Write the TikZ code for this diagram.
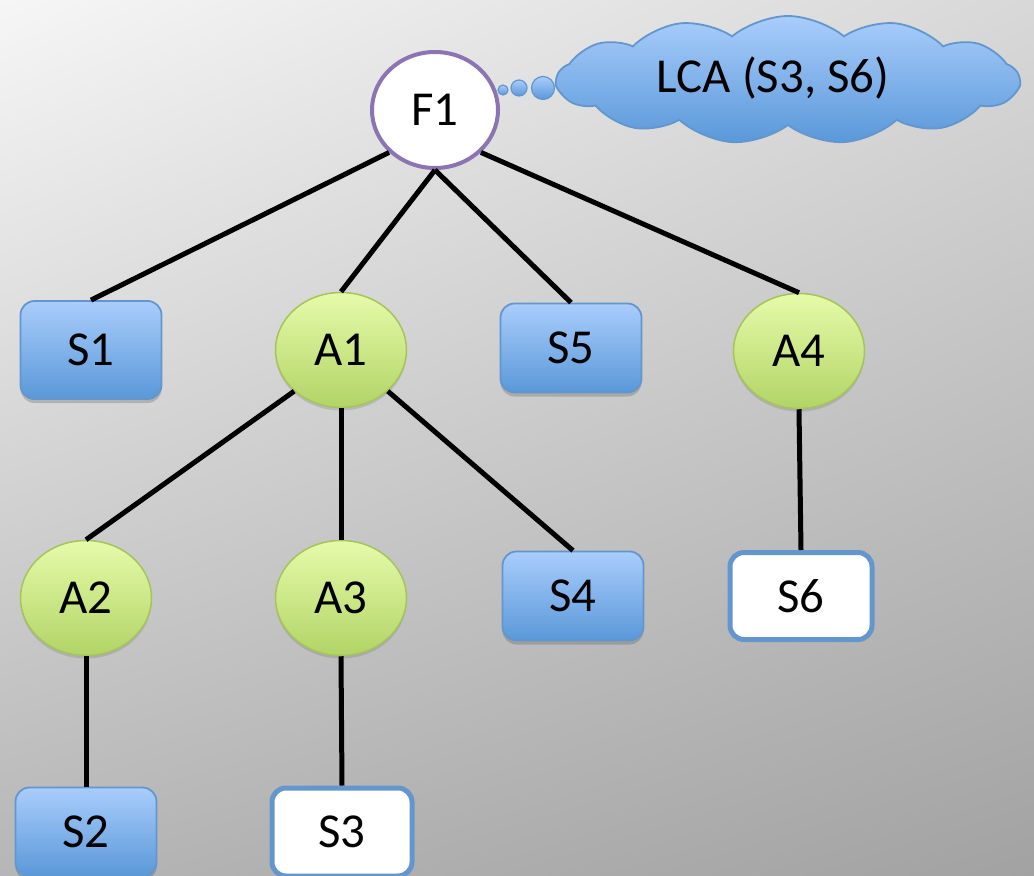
\documentclass[tikz,border=0pt]{standalone}
\usepackage{fontspec}
\setmainfont{Carlito}
\usetikzlibrary{shapes.geometric,shapes.symbols,shadows,shadings}

\definecolor{boxtop}{HTML}{A9CDFC}
\definecolor{boxbot}{HTML}{5A98D9}
\definecolor{boxline}{HTML}{6496CE}
\definecolor{agenttop}{HTML}{E6FBAA}
\definecolor{agentbot}{HTML}{B2D466}
\definecolor{agentline}{HTML}{A5C45C}
\definecolor{rootline}{HTML}{8C74B2}
\definecolor{bgtl}{HTML}{F6F6F6}
\definecolor{bgtr}{HTML}{D8D8D8}
\definecolor{bgbl}{HTML}{B6B6B6}
\definecolor{bgbr}{HTML}{A2A2A2}

\tikzset{
  every node/.style={font=\fontsize{49}{58}\selectfont, text=black},
  softshadow/.style={drop shadow={shadow xshift=0bp, shadow yshift=-4bp, opacity=0.22, fill=black!80}},
  server/.style={rectangle, rounded corners=14bp, draw=boxline, line width=1.8bp,
    top color=boxtop, bottom color=boxbot, minimum width=141bp, minimum height=89bp,
    inner sep=0pt, softshadow},
  picked/.style={rectangle, rounded corners=14bp, draw=boxline, line width=5bp,
    fill=white, minimum width=140bp, minimum height=88bp, inner sep=0pt},
  agent/.style={ellipse, draw=agentline, line width=1.5bp, top color=agenttop,
    bottom color=agentbot, minimum width=131bp, minimum height=115bp, inner sep=0pt,
    drop shadow={shadow xshift=0bp, shadow yshift=-3bp, opacity=0.15, fill=black!80}},
  rootnode/.style={ellipse, draw=rootline, line width=4bp, fill=white,
    minimum width=126bp, minimum height=116bp, inner sep=0pt},
  link/.style={line width=5bp, draw=black},
  bubble/.style={draw=boxline, line width=1.2bp, top color=boxtop, bottom color=boxbot},
}

\begin{document}
\begin{tikzpicture}[x=1bp, y=-1bp]
  % backdrop
  \useasboundingbox (0,0) rectangle (1034,876);
  \shade[upper left=bgtl, upper right=bgtr, lower left=bgbl, lower right=bgbr]
    (0,0) rectangle (1034,876);

  % thought cloud
  \node[cloud, cloud puffs=13, cloud puff arc=80, cloud ignores aspect,
        minimum width=462bp, minimum height=128bp, draw=boxline, line width=1.8bp,
        top color=boxtop, bottom color=boxbot] (cloud) at (788,80) {};
  \node (lca) at (773,78) {LCA (S3, S6)};
  \shade[bubble] (503,90) circle (5);
  \shade[bubble] (519,88) circle (8);
  \shade[bubble] (543,88) circle (11.5);

  % tree nodes
  \node[rootnode] (F1) at (435,110) {F1};
  \node[server] (S1) at (91,350) [minimum height=98bp] {S1};
  \node[agent] (A1) at (341,350) {A1};
  \node[server] (S5) at (571,348) {S5};
  \node[agent] (A4) at (799,351) {A4};
  \node[agent] (A2) at (86,598) {A2};
  \node[agent] (A3) at (341,598) {A3};
  \node[server] (S4) at (573,596) {S4};
  \node[picked] (S6) at (801,596) [minimum width=142bp, minimum height=87bp] {S6};
  \node[server] (S2) at (86,832) {S2};
  \node[picked] (S3) at (342,832) {S3};

  % edges
  \draw[link] (F1.south west) -- (S1.north);
  \draw[link] (F1.south) -- (A1.north);
  \draw[link] (F1.south) -- (S5.north);
  \draw[link] (F1.south east) -- (A4.north);
  \draw[link] (A1.south west) -- (A2.north);
  \draw[link] (A1.south) -- (A3.north);
  \draw[link] (A1.south east) -- (S4.north);
  \draw[link] (A2.south) -- (S2.north);
  \draw[link] (A3.south) -- (S3.north);
  \draw[link] (A4.south) -- (S6.north);
\end{tikzpicture}
\end{document}
